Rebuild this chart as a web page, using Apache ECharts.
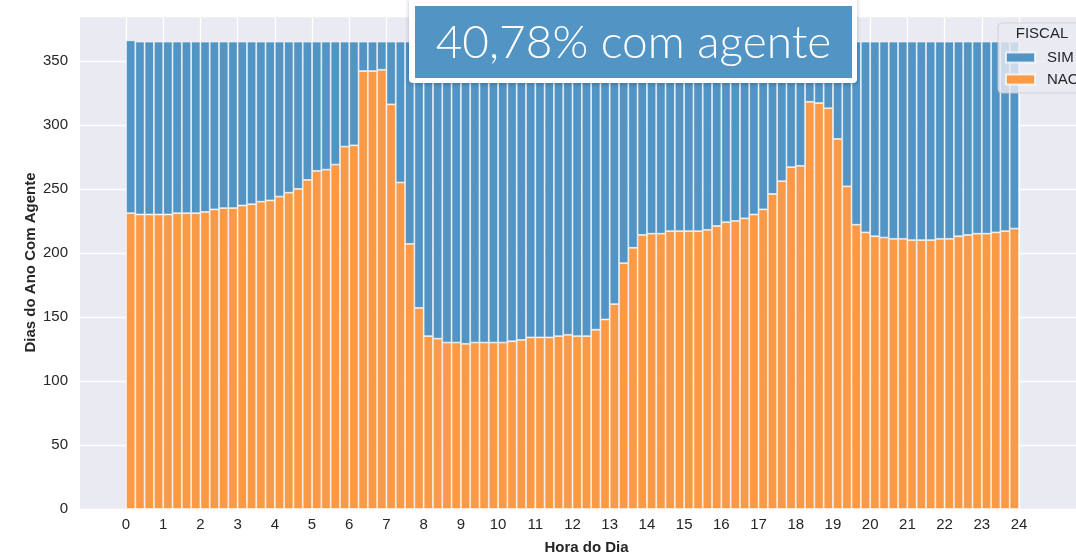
<!DOCTYPE html>
<html>
<head>
<meta charset="utf-8">
<title>Dias do Ano Com Agente</title>
<script src="https://cdn.jsdelivr.net/npm/echarts@6/dist/echarts.min.js"></script>
<style>
  html, body { margin: 0; padding: 0; background: #ffffff; }
  #myChart { width: 1076px; height: 556px; }
</style>
</head>
<body>
<div id="myChart"></div>
<script>
'use strict';

// --- 96 bins of 15 min, value = days of the year per bin
var seriesNames = ['SIM', 'NAO'];
var headline = '40,78% com agente';
var legendTitle = 'FISCAL';

var bins = [];
for (var h = 0; h < 24; h++) {
  ['00', '15', '30', '45'].forEach(function (m) {
    bins.push((h < 10 ? '0' + h : '' + h) + ':' + m);
  });
}

var nao = [
  231, 230, 230, 230, 230, 231, 231, 231, 232, 234, 235, 235, 237, 238, 240, 241,
  244, 247, 250, 257, 264, 265, 269, 283, 284, 342, 342, 343, 316, 255, 207, 157,
  135, 133, 130, 130, 129, 130, 130, 130, 130, 131, 132, 134, 134, 134, 135, 136,
  135, 135, 140, 148, 160, 192, 204, 214, 215, 215, 217, 217, 217, 217, 218, 221,
  224, 225, 227, 230, 234, 246, 256, 267, 268, 318, 317, 313, 289, 252, 222, 216,
  213, 212, 211, 211, 210, 210, 210, 211, 211, 213, 214, 215, 215, 216, 217, 219
];

var sim = [
  135, 135, 135, 135, 135, 134, 134, 134, 133, 131, 130, 130, 128, 127, 125, 124,
  121, 118, 115, 108, 101, 100, 96, 82, 81, 23, 23, 22, 49, 110, 158, 208,
  230, 232, 235, 235, 236, 235, 235, 235, 235, 234, 233, 231, 231, 231, 230, 229,
  230, 230, 225, 217, 205, 173, 161, 151, 150, 150, 148, 148, 148, 148, 147, 144,
  141, 140, 138, 135, 131, 119, 109, 98, 97, 47, 48, 52, 76, 113, 143, 149,
  152, 153, 154, 154, 155, 155, 155, 154, 154, 152, 151, 150, 150, 149, 148, 146
];

var textColor = '#262626';
var fontFamily = '"Liberation Sans", Arial, sans-serif';

var myChart = echarts.init(document.getElementById('myChart'));

var barStyle = {
  borderColor: 'rgba(255,255,255,0.75)',
  borderWidth: 0.8
};

var option = {
  backgroundColor: '#ffffff',
  animation: false,
  textStyle: { fontFamily: fontFamily },
  grid: [
    // full plot area (background + horizontal lines)
    {
      left: 80, top: 16, width: 1013, height: 493, outerBoundsMode: 'none',
      show: true, backgroundColor: '#EAEAF2', borderWidth: 0
    },
    // bars + hour ticks 0..24
    { left: 126, top: 16, width: 893, height: 493, outerBoundsMode: 'none' }
  ],
  xAxis: [
    {
      type: 'value', gridIndex: 0, min: -1.236, max: 26,
      name: 'Hora do Dia', nameLocation: 'middle', nameGap: 31, nameMoveOverlap: false,
      nameTextStyle: { fontWeight: 'bold', fontSize: 15, color: textColor },
      axisLine: { show: false }, axisTick: { show: false },
      axisLabel: { show: false }, splitLine: { show: false }
    },
    {
      type: 'value', gridIndex: 1, position: 'bottom', min: 0, max: 24, interval: 1,
      axisLine: { show: false }, axisTick: { show: false },
      axisLabel: { fontSize: 15, color: textColor, margin: 8 },
      splitLine: { lineStyle: { color: '#ffffff', width: 1.3 } }
    },
    {
      type: 'category', gridIndex: 1, position: 'top', data: bins,
      boundaryGap: true, show: false
    }
  ],
  yAxis: [
    {
      type: 'value', gridIndex: 0, min: 0, max: 385, interval: 50,
      name: 'Dias do Ano Com Agente', nameLocation: 'middle', nameGap: 42, nameMoveOverlap: false,
      nameTextStyle: { fontWeight: 'bold', fontSize: 15, color: textColor },
      axisLine: { show: false }, axisTick: { show: false },
      axisLabel: {
        fontSize: 15, color: textColor, margin: 12,
        formatter: function (v) { return v % 50 === 0 ? String(v) : ''; }
      },
      splitLine: { lineStyle: { color: '#ffffff', width: 1.3 } }
    },
    {
      type: 'value', gridIndex: 1, min: 0, max: 385, show: false,
      splitLine: { show: false }
    }
  ],
  legend: {
    data: seriesNames,
    orient: 'vertical',
    left: 998,
    top: 23,
    padding: [27, 60, 6, 7],
    itemWidth: 29,
    itemHeight: 10,
    itemGap: 7,
    icon: 'rect',
    backgroundColor: 'rgba(234,234,242,0.8)',
    borderColor: 'rgba(204,204,204,0.8)',
    borderWidth: 1,
    borderRadius: 4,
    textStyle: { fontSize: 15, color: textColor, padding: [0, 0, 0, 7] }
  },
  graphic: [
    {
      type: 'rect', z: 100,
      shape: { x: 409, y: -4, width: 448, height: 87, r: 4 },
      style: { fill: '#ffffff', shadowBlur: 4, shadowColor: 'rgba(0,0,0,0.25)', shadowOffsetY: 1 }
    },
    {
      type: 'rect', z: 101,
      shape: { x: 415, y: 6, width: 437, height: 72 },
      style: { fill: '#5294C4' }
    },
    {
      type: 'text', z: 102, x: 633.5, y: 43,
      style: {
        text: headline, fill: '#ffffff', align: 'center', verticalAlign: 'middle',
        font: '300 46px Lato, "Open Sans", sans-serif'
      }
    },
    {
      type: 'text', z: 110, x: 1042, y: 34,
      style: {
        text: legendTitle, fill: textColor, align: 'center', verticalAlign: 'middle',
        font: '15px ' + fontFamily
      }
    }
  ],
  series: [
    {
      name: 'NAO', type: 'bar', stack: 'dias',
      xAxisIndex: 2, yAxisIndex: 1,
      barWidth: '100%',
      itemStyle: Object.assign({ color: '#FA9A47' }, barStyle),
      data: nao
    },
    {
      name: 'SIM', type: 'bar', stack: 'dias',
      xAxisIndex: 2, yAxisIndex: 1,
      barWidth: '100%',
      itemStyle: Object.assign({ color: '#5294C4' }, barStyle),
      data: sim
    }
  ]
};

myChart.setOption(option);
</script>
</body>
</html>
